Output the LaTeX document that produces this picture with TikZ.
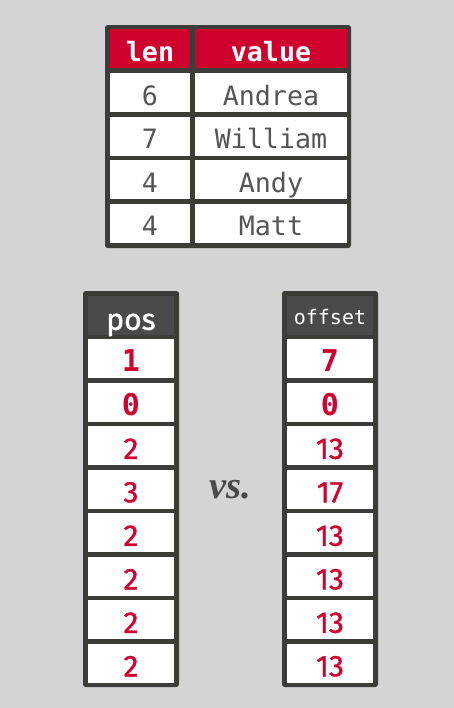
\documentclass[tikz,border=0pt]{standalone}
\usepackage{fontspec}
\setmainfont{Fira Sans}
\setmonofont{DejaVu Sans Mono}
\newfontfamily\vsfont{Liberation Serif}
\newfontfamily\numfont{Fira Sans}[FakeBold=1.2]
\usepackage{xcolor}
\definecolor{CellRed}{HTML}{D0002E}
\definecolor{FrameGray}{HTML}{3C3C39}
\definecolor{HeadGray}{HTML}{4A4A4A}
\definecolor{TextGray}{HTML}{555555}
\definecolor{BackGray}{HTML}{D4D4D4}

\begin{document}
\begin{tikzpicture}[x=0.75pt, y=-0.75pt,
    frame/.style={fill=FrameGray, rounded corners=2pt},
    cell/.style={rectangle, inner sep=0pt, minimum height=29.25pt,
      text height=19pt, text depth=0pt},
    strcell/.style={cell, fill=white, text=TextGray,
      font=\ttfamily\fontsize{20}{24}\selectfont},
    redhead/.style={cell, fill=CellRed, text=white,
      font=\ttfamily\bfseries\fontsize{20}{24}\selectfont},
    darkhead/.style={cell, fill=HeadGray, text=white, minimum width=64.5pt},
    numcell/.style={cell, fill=white, text=CellRed, minimum width=64.5pt,
      text height=20pt, font=\numfont\fontsize{22.5}{26}\selectfont}
  ]
  \fill[BackGray] (0,0) rectangle (454,708);
  \useasboundingbox (0,0) rectangle (454,708);

  % dictionary
  \fill[frame] (105,25) rectangle (351,248);
  \node (lenhead) [redhead, minimum width=60pt] at (150,48.5) {len};
  \node (valhead) [redhead, minimum width=114pt] at (271,48.5) {value};
  \foreach \n/\v [count=\i] in {6/Andrea,7/William,4/Andy,4/Matt} {
    \node (len\i) [strcell, minimum width=60pt] at (150,{92.5+43.6*(\i-1)}) {\n};
    \node (val\i) [strcell, minimum width=114pt] at (271,{92.5+43.6*(\i-1)}) {\v};
  }

  % positions vs. offsets
  \fill[frame] (83,291) rectangle (179,687);
  \fill[frame] (282,291) rectangle (378,687);
  \node (poshead) [darkhead, text height=21.5pt, font=\numfont\fontsize{22.5}{26}\selectfont] at (131,315.5) {pos};
  \node (offhead) [darkhead, text height=14pt, font=\ttfamily\fontsize{15}{18}\selectfont] at (330,315.5) {offset};
  \node (pos1) [numcell, font=\ttfamily\bfseries\fontsize{22.5}{26}\selectfont] at (131,358.5) {1};
  \node (pos2) [numcell, font=\ttfamily\bfseries\fontsize{22.5}{26}\selectfont] at (131,402) {0};
  \node (off1) [numcell, font=\ttfamily\bfseries\fontsize{22.5}{26}\selectfont] at (330,358.5) {7};
  \node (off2) [numcell, font=\ttfamily\bfseries\fontsize{22.5}{26}\selectfont] at (330,402) {0};
  \foreach \p/\o [count=\i from 3] in {2/13,3/17,2/13,2/13,2/13,2/13} {
    \node (pos\i) [numcell] at (131,{358.5+43.5*(\i-1)}) {\p};
    \node (off\i) [numcell] at (330,{358.5+43.5*(\i-1)}) {\o};
  }
  \node (vs) [text=HeadGray, font=\vsfont\bfseries\itshape\fontsize{29}{34}\selectfont] at (230,490) {vs.};
\end{tikzpicture}
\end{document}
